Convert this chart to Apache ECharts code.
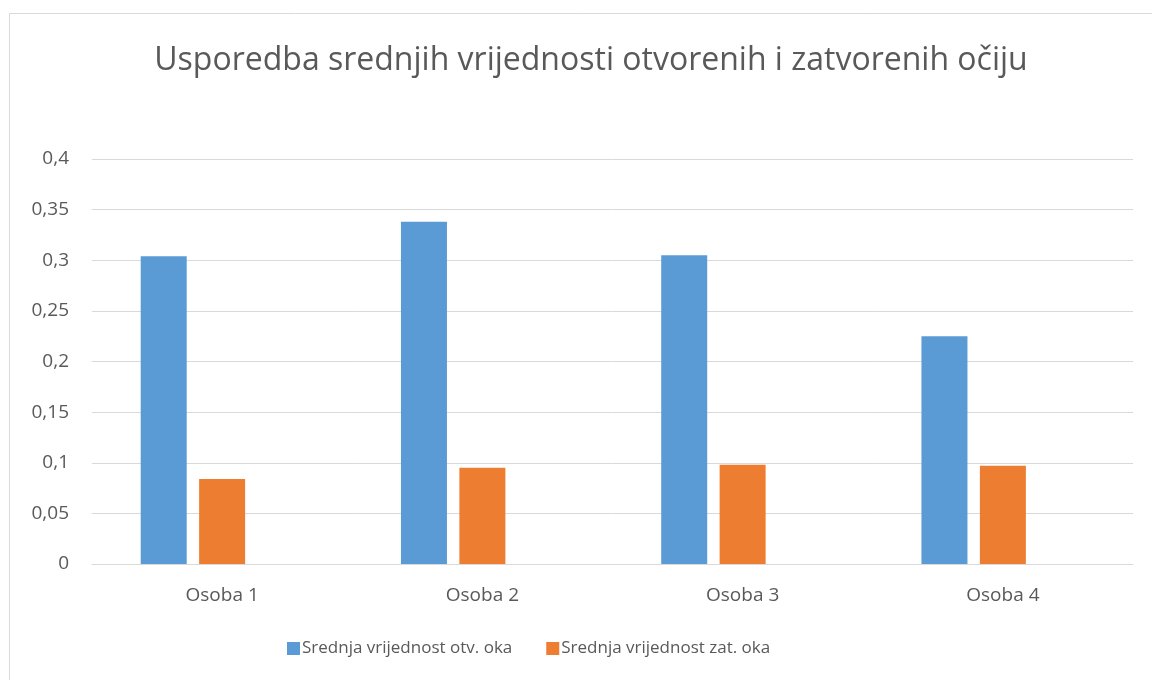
<!DOCTYPE html>
<html>
<head>
<meta charset="utf-8">
<title>Usporedba srednjih vrijednosti</title>
<script src="https://cdn.jsdelivr.net/npm/echarts@6/dist/echarts.min.js"></script>
<style>
  html, body { margin: 0; padding: 0; background: #fff; }
  #chart { width: 1152px; height: 680px; }
</style>
</head>
<body>
<div id="chart"></div>
<script>
const categories = ['Osoba 1', 'Osoba 2', 'Osoba 3', 'Osoba 4']
const otvoreneOci = [0.304, 0.338, 0.305, 0.225]
const zatvoreneOci = [0.084, 0.095, 0.098, 0.097]
const yTicks = { min: 0, max: 0.4, step: 0.05 }

const fontFamily = '"Open Sans", "Noto Sans", sans-serif'
const textColor = '#595959'
const gridColor = '#d9d9d9'

const chart = echarts.init(document.getElementById('chart'))

const option = {
  backgroundColor: '#fff',
  animation: false,
  graphic: [
    {
      type: 'rect',
      shape: { x: 9.5, y: 13.5, width: 1160, height: 700 },
      style: { fill: 'none', stroke: gridColor, lineWidth: 1 },
      silent: true
    }
  ],
  title: {
    text: 'Usporedba srednjih vrijednosti otvorenih i zatvorenih očiju',
    left: 586,
    textAlign: 'center',
    top: 40,
    textStyle: {
      fontFamily: fontFamily,
      fontSize: 32,
      fontWeight: 'normal',
      color: textColor
    }
  },
  legend: {
    data: ['Srednja vrijednost otv. oka', 'Srednja vrijednost zat. oka'],
    left: 287,
    top: 640,
    padding: 0,
    itemWidth: 13,
    itemHeight: 13,
    itemGap: 34,
    icon: 'rect',
    textStyle: {
      fontFamily: fontFamily,
      fontSize: 17,
      color: textColor,
      padding: [0, 0, 0, -3]
    }
  },
  grid: {
    left: 92,
    right: 19,
    top: 159,
    bottom: 116
  },
  xAxis: {
    type: 'category',
    data: categories,
    axisLine: { lineStyle: { color: gridColor, width: 1 } },
    axisTick: { show: false },
    axisLabel: {
      margin: 22,
      fontFamily: fontFamily,
      fontSize: 19,
      color: textColor
    }
  },
  yAxis: {
    type: 'value',
    min: yTicks.min,
    max: yTicks.max,
    interval: yTicks.step,
    axisLine: { show: false },
    axisTick: { show: false },
    splitLine: { lineStyle: { color: gridColor, width: 1 } },
    axisLabel: {
      margin: 23,
      fontFamily: fontFamily,
      fontSize: 19,
      color: textColor,
      formatter: (v) => String(+v.toFixed(2)).replace('.', ',')
    }
  },
  series: [
    {
      name: 'Srednja vrijednost otv. oka',
      type: 'bar',
      data: otvoreneOci,
      barWidth: 46,
      barGap: '27%',
      itemStyle: { color: '#5b9bd5' }
    },
    {
      name: 'Srednja vrijednost zat. oka',
      type: 'bar',
      data: zatvoreneOci,
      barWidth: 46,
      barGap: '27%',
      itemStyle: { color: '#ed7d31' }
    },
    {
      // prazna serija (kao u Excelu) - zauzima mjesto trećeg stupca
      name: 'prazno',
      type: 'bar',
      data: categories.map(() => '-'),
      barWidth: 46,
      barGap: '27%'
    }
  ]
}

chart.setOption(option)

window.addEventListener('resize', () => {
  chart.resize()
})
</script>
</body>
</html>
